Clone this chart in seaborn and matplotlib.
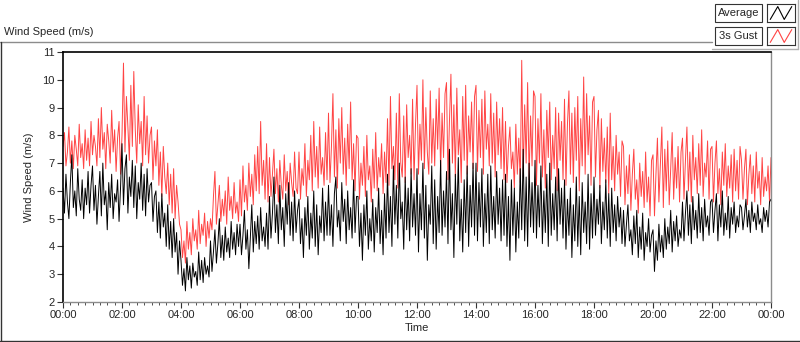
import numpy as np
import pandas as pd
import seaborn as sns
import matplotlib.pyplot as plt
from matplotlib.lines import Line2D
from matplotlib.patches import Rectangle
from matplotlib.ticker import MultipleLocator

# one reading every 3 minutes, 20 per row = 1 hour
sample_minutes = 3

gust = [
    7.6, 8.1, 6.9, 7.4, 8.3, 7.0, 7.8, 6.8, 8.0, 7.5, 6.9, 8.4, 7.2, 7.7, 6.8, 8.2, 7.1, 7.9, 6.9, 8.5,
    7.3, 8.0, 7.6, 6.9, 8.6, 7.2, 9.0, 7.5, 8.1, 6.8, 8.4, 7.8, 7.0, 8.9, 7.4, 8.2, 6.7, 7.9, 8.5, 6.6,
    8.0, 10.6, 7.4, 9.4, 8.3, 7.1, 9.8, 7.6, 10.3, 8.2, 7.0, 9.1, 7.7, 8.5, 6.9, 9.4, 7.3, 8.7, 7.0, 8.0,
    8.3, 6.4, 7.8, 6.9, 8.2, 6.2, 7.4, 5.8, 7.6, 6.5, 5.9, 7.0, 5.5, 6.6, 5.2, 6.8, 5.0, 6.2, 5.6, 4.8,
    4.6, 3.6, 4.2, 3.4, 4.9, 3.9, 4.5, 3.7, 5.0, 4.2, 4.6, 3.9, 5.3, 4.1, 4.8, 4.4, 5.2, 4.0, 4.9, 4.3,
    5.0, 4.6, 5.8, 6.7, 4.8, 5.5, 6.2, 4.9, 5.7, 5.1, 6.0, 4.8, 6.5, 5.3, 5.8, 5.0, 6.3, 5.2, 5.6, 4.9,
    6.4, 5.1, 6.9, 5.6, 6.2, 5.3, 7.0, 5.8, 6.6, 5.5, 7.3, 6.0, 7.6, 5.9, 8.5, 6.2, 7.1, 5.7, 7.7, 5.6,
    7.2, 5.8, 6.6, 7.5, 5.9, 6.8, 5.6, 7.1, 6.2, 5.7, 7.3, 6.0, 6.7, 5.5, 7.0, 6.3, 5.8, 7.4, 6.1, 5.9,
    7.4, 5.7, 6.8, 6.2, 7.7, 5.8, 7.1, 6.4, 8.0, 6.0, 8.5, 6.5, 7.6, 6.1, 8.3, 6.6, 7.2, 6.2, 8.1, 6.4,
    8.8, 6.3, 7.6, 9.5, 6.5, 8.2, 6.1, 8.6, 7.0, 9.0, 6.6, 7.9, 6.2, 8.4, 6.8, 9.2, 6.4, 7.7, 6.0, 8.0,
    7.9, 5.7, 7.0, 6.2, 7.6, 5.8, 8.0, 6.4, 6.9, 5.6, 7.5, 6.1, 8.1, 6.0, 7.2, 6.5, 7.7, 5.9, 7.4, 6.3,
    8.6, 6.2, 9.4, 6.8, 7.6, 6.4, 8.8, 6.1, 9.5, 7.0, 6.5, 8.7, 6.3, 9.1, 7.2, 8.0, 6.6, 9.3, 6.4, 8.4,
    9.8, 6.6, 8.4, 7.1, 10.0, 6.8, 9.0, 7.4, 6.6, 9.6, 7.0, 8.6, 6.9, 9.3, 7.5, 9.7, 6.7, 8.8, 7.2, 9.5,
    9.9, 6.4, 8.5, 10.2, 7.0, 9.1, 6.5, 9.7, 7.3, 8.2, 6.3, 9.4, 7.1, 9.8, 6.6, 8.7, 7.4, 9.2, 6.8, 9.4,
    9.8, 6.7, 8.9, 7.2, 9.3, 6.6, 9.6, 7.5, 8.4, 6.9, 9.5, 7.0, 8.8, 6.5, 9.2, 7.3, 8.6, 6.8, 9.0, 6.4,
    8.5, 6.3, 7.6, 8.3, 6.8, 7.4, 6.1, 8.4, 6.6, 7.9, 6.3, 10.7, 6.5, 9.1, 7.0, 9.9, 6.4, 8.7, 6.9, 9.6,
    9.4, 6.2, 8.6, 7.0, 9.5, 6.5, 8.2, 6.1, 8.9, 7.2, 9.2, 6.4, 8.0, 6.8, 9.0, 6.0, 8.8, 7.1, 8.5, 6.4,
    9.3, 6.2, 8.4, 9.6, 6.6, 8.8, 6.3, 9.0, 7.1, 9.4, 6.0, 8.6, 6.9, 10.1, 6.6, 9.5, 7.3, 8.7, 6.2, 9.2,
    9.4, 6.5, 8.2, 8.9, 6.1, 8.6, 6.7, 7.9, 6.3, 8.3, 5.9, 8.8, 6.4, 7.6, 6.0, 8.0, 6.6, 7.4, 5.8, 7.8,
    7.6, 5.5, 6.9, 5.9, 7.3, 5.3, 6.6, 7.5, 5.7, 6.4, 5.2, 7.0, 5.8, 6.7, 5.4, 7.4, 5.6, 6.5, 5.1, 7.1,
    7.3, 5.1, 6.6, 7.9, 5.6, 7.0, 8.3, 5.4, 7.5, 6.0, 7.8, 5.5, 6.8, 8.1, 5.7, 7.2, 6.1, 7.6, 5.6, 7.4,
    7.9, 5.7, 7.1, 8.3, 6.0, 7.4, 5.6, 8.0, 6.4, 7.2, 5.9, 7.7, 6.2, 8.2, 5.8, 7.0, 6.5, 7.8, 5.7, 7.5,
    7.6, 5.6, 7.0, 7.8, 5.9, 6.8, 5.5, 7.4, 6.2, 7.7, 5.8, 6.9, 6.1, 7.3, 5.6, 7.5, 6.0, 7.1, 5.7, 7.6,
    7.1, 5.7, 6.8, 7.5, 5.5, 6.6, 7.3, 5.9, 6.9, 5.6, 7.4, 6.1, 6.7, 5.5, 7.2, 5.8, 6.5, 6.0, 6.9, 5.6,
    7.2,
]

average = [
    6.1, 5.2, 6.6, 5.6, 5.0, 6.3, 7.3, 5.4, 6.0, 5.1, 6.8, 5.7, 5.3, 6.4, 5.0, 6.1, 5.5, 6.7, 5.2, 6.2,
    6.9, 5.3, 6.2, 4.8, 5.8, 6.7, 5.1, 7.0, 5.5, 6.0, 4.6, 6.3, 5.4, 6.6, 5.0, 5.9, 5.6, 6.4, 4.9, 6.1,
    7.7, 5.5, 6.8, 7.3, 5.2, 6.5, 5.8, 7.1, 5.4, 6.9, 5.0, 6.3, 5.7, 7.0, 5.3, 6.6, 5.1, 6.8, 5.6, 6.2,
    6.3, 4.9, 5.8, 6.0, 4.5, 5.6, 4.3, 5.9, 4.7, 5.2, 4.0, 5.5, 3.9, 4.9, 3.6, 5.0, 3.8, 4.5, 3.0, 4.2,
    3.5, 2.6, 3.2, 2.4, 3.6, 2.8, 3.3, 2.5, 3.4, 2.9, 3.1, 2.6, 3.8, 2.8, 3.5, 2.7, 3.6, 3.0, 3.3, 2.9,
    4.2, 3.1, 3.8, 4.6, 3.4, 4.1, 5.0, 3.6, 4.4, 3.5, 4.7, 3.8, 4.3, 3.6, 4.9, 3.9, 4.5, 3.7, 4.8, 4.0,
    4.8, 3.7, 4.4, 5.3, 3.9, 4.6, 3.2, 4.3, 5.5, 3.8, 4.9, 4.1, 5.1, 3.9, 5.4, 4.2, 4.7, 4.0, 5.2, 3.9,
    5.8, 4.3, 5.2, 6.5, 4.5, 5.5, 4.1, 6.2, 4.6, 5.4, 4.0, 5.9, 4.8, 6.3, 4.4, 5.6, 4.2, 6.0, 4.5, 5.3,
    5.7, 4.1, 5.0, 3.6, 5.4, 4.4, 5.8, 3.9, 5.2, 4.3, 6.0, 4.0, 5.5, 3.7, 5.1, 4.5, 6.1, 4.2, 5.6, 4.4,
    6.2, 4.4, 5.5, 4.0, 5.9, 6.5, 4.7, 5.3, 4.2, 6.3, 4.9, 5.7, 4.1, 6.0, 4.6, 5.4, 4.3, 6.4, 4.5, 5.8,
    5.8, 4.0, 5.2, 3.5, 5.5, 4.4, 6.0, 3.9, 5.0, 4.2, 5.7, 3.8, 5.4, 4.5, 6.1, 4.1, 5.3, 3.7, 5.9, 4.3,
    6.6, 4.5, 5.8, 4.0, 6.9, 4.8, 6.2, 4.3, 7.0, 5.0, 5.6, 3.9, 6.5, 4.6, 6.1, 4.2, 6.8, 4.7, 5.9, 4.4,
    6.8, 3.8, 5.9, 4.6, 7.0, 4.3, 6.2, 3.5, 5.5, 4.8, 6.9, 4.1, 6.4, 3.9, 5.8, 4.5, 7.1, 4.4, 6.0, 4.7,
    6.7, 4.1, 7.5, 4.6, 5.9, 3.6, 6.6, 4.8, 7.2, 4.2, 5.7, 3.8, 6.4, 4.5, 6.9, 4.0, 6.2, 4.7, 7.0, 4.4,
    7.0, 4.2, 6.3, 4.7, 6.8, 4.0, 5.9, 4.5, 6.6, 4.1, 6.9, 4.6, 5.8, 4.3, 6.7, 4.8, 6.1, 4.2, 6.4, 4.4,
    6.6, 4.0, 5.8, 3.5, 6.4, 4.4, 6.1, 3.8, 5.6, 4.3, 6.8, 4.6, 7.5, 4.2, 6.5, 4.0, 7.0, 4.7, 6.3, 4.5,
    7.1, 4.3, 6.2, 4.7, 6.9, 4.1, 6.0, 4.5, 6.6, 4.0, 7.0, 4.4, 5.9, 4.6, 6.5, 4.2, 6.8, 4.8, 6.1, 4.3,
    6.4, 3.9, 5.7, 4.4, 6.1, 3.6, 5.5, 4.2, 6.5, 4.0, 5.8, 3.7, 6.3, 4.5, 5.6, 4.1, 6.6, 3.9, 5.9, 4.3,
    6.5, 4.4, 5.7, 4.8, 6.2, 4.1, 5.6, 4.6, 6.4, 4.3, 5.9, 4.0, 6.1, 4.5, 5.5, 4.2, 5.8, 4.7, 5.4, 4.1,
    5.3, 4.0, 4.8, 5.5, 4.2, 4.6, 3.7, 5.1, 4.1, 5.3, 3.6, 4.7, 3.9, 5.2, 3.5, 4.5, 4.0, 5.0, 3.8, 4.4,
    4.6, 3.1, 4.2, 3.5, 4.8, 3.8, 4.4, 3.6, 5.0, 3.9, 4.7, 4.1, 5.3, 3.8, 4.9, 4.2, 5.1, 4.0, 4.6, 4.3,
    5.6, 4.2, 5.2, 6.0, 4.4, 5.5, 4.1, 5.8, 4.6, 5.3, 4.3, 5.9, 4.5, 5.4, 4.2, 5.7, 4.7, 5.1, 4.4, 5.6,
    5.7, 4.5, 5.3, 5.9, 4.2, 5.5, 4.7, 6.0, 4.4, 5.2, 4.6, 5.8, 4.3, 5.4, 4.8, 5.6, 4.5, 5.1, 4.7, 5.5,
    5.4, 4.6, 5.1, 5.7, 4.7, 5.3, 4.5, 5.6, 4.9, 5.2, 4.6, 5.5, 4.8, 5.0, 4.5, 5.4, 4.9, 5.3, 4.7, 5.6,
    5.7,
]

series_names = ['Average', '3s Gust']
series_colors = {'Average': 'black', '3s Gust': '#ff4444'}
hour_ticks = [0, 2, 4, 6, 8, 10, 12, 14, 16, 18, 20, 22, 24]
hour_labels = ['00:00', '02:00', '04:00', '06:00', '08:00', '10:00', '12:00',
               '14:00', '16:00', '18:00', '20:00', '22:00', '00:00']
y_ticks = [2, 3, 4, 5, 6, 7, 8, 9, 10, 11]

df = pd.concat([
    pd.DataFrame({'hours': np.arange(len(gust)) * sample_minutes / 60,
                  'speed': gust, 'series': '3s Gust'}),
    pd.DataFrame({'hours': np.arange(len(average)) * sample_minutes / 60,
                  'speed': average, 'series': 'Average'}),
])

sns.set_style('white')
plt.rcParams['font.family'] = ['Liberation Sans', 'DejaVu Sans']
plt.rcParams['font.size'] = 8

W, H = 800, 342
fig = plt.figure(figsize=(W / 100, H / 100), dpi=100)
ax = fig.add_axes([63 / W, 1 - 302 / H, (771 - 63) / W, (302 - 52) / H])

# red first so the black average sits on top
sns.lineplot(data=df, x='hours', y='speed', hue='series',
             hue_order=['3s Gust', 'Average'], palette=series_colors,
             estimator=None, linewidth=0.7, legend=False, ax=ax)

ax.set_xlim(0, 24)
ax.set_ylim(2, 11)
ax.set_xticks(hour_ticks)
ax.set_xticklabels(hour_labels)
ax.xaxis.set_minor_locator(MultipleLocator(0.25))
ax.set_yticks(y_ticks)
ax.tick_params(axis='both', which='major', direction='out', length=4,
               width=0.8, color='#333333', labelsize=8, pad=2,
               bottom=True, left=True)
ax.tick_params(axis='x', which='minor', direction='out', length=2.5,
               width=0.6, color='#333333', bottom=True)
ax.set_xlabel('Time', fontsize=8, labelpad=2)
ax.set_ylabel('Wind Speed (m/s)', fontsize=8, labelpad=6)

for side in ['left', 'top']:
    ax.spines[side].set_color('black')
    ax.spines[side].set_linewidth(1.2)
for side in ['bottom', 'right']:
    ax.spines[side].set_color('#8c8c8c')
    ax.spines[side].set_linewidth(1.0)


def fig_line(x0, y0, x1, y1, color, lw=1.0):
    fig.add_artist(Line2D([x0 / W, x1 / W], [1 - y0 / H, 1 - y1 / H],
                          color=color, linewidth=lw))


# outer panel frame
fig_line(0, 42, 712, 42, '#8c8c8c')
fig_line(712, 49, 798, 49, '#b0b0b0')
fig_line(798, 0, 798, 49, '#b0b0b0')
fig_line(0.5, 42, 0.5, 341, '#333333')
fig_line(0, 340.5, 800, 340.5, '#333333')

fig.text(4 / W, 1 - 32 / H, 'Wind Speed (m/s)', fontsize=8, va='center', ha='left')

# legend: label box plus small zigzag glyph box
for i, name in enumerate(series_names):
    top = 4 + i * 23
    fig.add_artist(Rectangle((715 / W, 1 - (top + 18) / H), 47 / W, 18 / H,
                             transform=fig.transFigure, fc='white',
                             ec='#333333', lw=0.8))
    fig.text(738.5 / W, 1 - (top + 9) / H, name, fontsize=8,
             ha='center', va='center')
    ix = fig.add_axes([767 / W, 1 - (top + 18) / H, 28 / W, 18 / H])
    ix.plot([0, 0.35, 0.65, 1], [0, 1, 0, 1], color=series_colors[name], linewidth=0.8)
    ix.set_xlim(-0.15, 1.15)
    ix.set_ylim(-0.2, 1.2)
    ix.set_xticks([])
    ix.set_yticks([])
    for s in ix.spines.values():
        s.set_color('#333333')
        s.set_linewidth(0.8)

fig.savefig('out.png', dpi=100)
